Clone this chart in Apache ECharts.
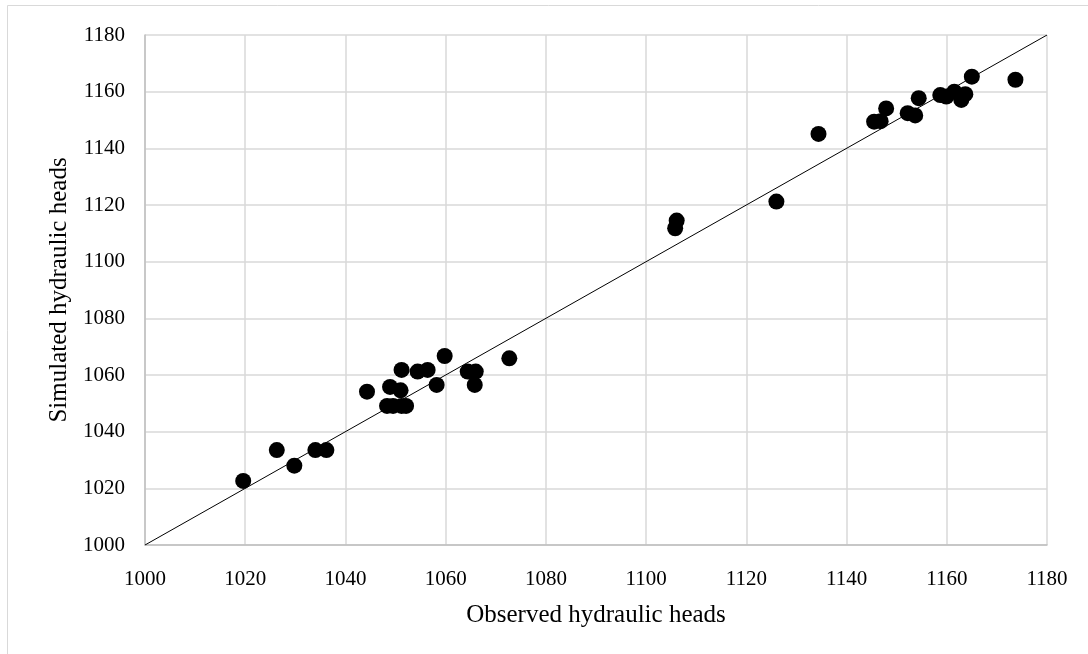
<!DOCTYPE html>
<html>
<head>
<meta charset="utf-8">
<script src="https://cdn.jsdelivr.net/npm/echarts@6/dist/echarts.min.js"></script>
<style>
  html, body { margin: 0; padding: 0; background: #ffffff; }
  #chart { width: 1088px; height: 654px; }
</style>
</head>
<body>
<div id="chart"></div>
<script>
// Observed vs simulated hydraulic heads at the calibration wells
const observed = [
  1019.6, 1026.3, 1029.8, 1034.0, 1036.2,
  1044.3, 1048.3, 1049.5, 1048.9, 1051.0, 1051.2, 1052.1, 1051.2,
  1054.4, 1056.4, 1058.2, 1059.8, 1064.4, 1066.0, 1065.8, 1072.7,
  1105.8, 1106.1, 1126.0, 1134.4,
  1145.5, 1146.8, 1147.9, 1152.2, 1153.7, 1154.4,
  1158.7, 1159.9, 1161.5, 1162.9, 1163.7, 1165.0, 1173.7
];
const simulated = [
  1022.6, 1033.5, 1028.0, 1033.5, 1033.5,
  1054.1, 1049.1, 1049.1, 1055.8, 1054.6, 1049.1, 1049.1, 1061.8,
  1061.2, 1061.8, 1056.5, 1066.7, 1061.2, 1061.2, 1056.5, 1065.9,
  1111.8, 1114.5, 1121.2, 1145.1,
  1149.4, 1149.6, 1154.1, 1152.4, 1151.6, 1157.7,
  1158.8, 1158.3, 1160.0, 1157.1, 1159.1, 1165.3, 1164.2
];
// 1:1 reference line
const lineX = [1000, 1180];
const lineY = [1000, 1180];
const axisMin = 1000, axisMax = 1180, axisStep = 20;

const points = observed.map((v, i) => [v, simulated[i]]);
const refLine = lineX.map((v, i) => [v, lineY[i]]);

const font = '"Liberation Serif", "DejaVu Serif", serif';
const gridColor = '#d9d9d9';
const axisColor = '#bfbfbf';
const plain = v => String(v);

const chart = echarts.init(document.getElementById('chart'));
chart.setOption({
  animation: false,
  backgroundColor: '#ffffff',
  grid: { left: 145, right: 41, top: 35, bottom: 109, containLabel: false },
  graphic: [{
    type: 'rect',
    shape: { x: 7.5, y: 5.5, width: 1200, height: 1000 },
    style: { fill: 'none', stroke: '#d9d9d9', lineWidth: 1 },
    silent: true, z: -1
  }],
  xAxis: {
    type: 'value', min: axisMin, max: axisMax, interval: axisStep,
    name: 'Observed hydraulic heads', nameLocation: 'middle', nameGap: 58,
    nameTextStyle: { fontFamily: font, fontSize: 25, color: '#000' },
    axisLine: { show: true, onZero: false, lineStyle: { color: axisColor, width: 1.5 } },
    axisTick: { show: false },
    axisLabel: { fontFamily: font, fontSize: 21, color: '#000', margin: 24, formatter: plain },
    splitLine: { show: true, lineStyle: { color: gridColor, width: 1.5 } }
  },
  yAxis: {
    type: 'value', min: axisMin, max: axisMax, interval: axisStep,
    name: 'Simulated hydraulic heads', nameLocation: 'middle', nameGap: 72,
    nameTextStyle: { fontFamily: font, fontSize: 25, color: '#000' },
    axisLine: { show: true, onZero: false, lineStyle: { color: axisColor, width: 1.5 } },
    axisTick: { show: false },
    axisLabel: { fontFamily: font, fontSize: 21, color: '#000', margin: 20, formatter: plain },
    splitLine: { show: true, lineStyle: { color: gridColor, width: 1.5 } }
  },
  series: [
    {
      type: 'line', data: refLine, symbol: 'none', silent: true,
      lineStyle: { color: '#000', width: 1 }, z: 2
    },
    {
      type: 'scatter', data: points, symbol: 'circle', symbolSize: 16,
      itemStyle: { color: '#000', opacity: 1 }, z: 3
    }
  ]
});
</script>
</body>
</html>
